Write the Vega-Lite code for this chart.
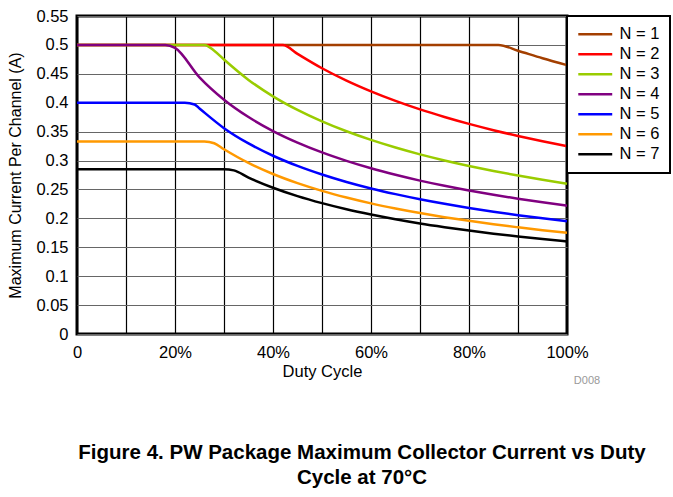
{
  "$schema": "https://vega.github.io/schema/vega-lite/v6.json",
  "width": 490,
  "height": 318,
  "autosize": {"type": "none"},
  "padding": {"left": 77, "top": 16, "right": 106, "bottom": 163},
  "background": "white",
  "config": {
    "view": {"stroke": "#000", "strokeWidth": 3},
    "font": "Liberation Sans",
    "legend": {"strokeWidth": 2}
  },
  "title": {
    "text": ["Figure 4. PW Package Maximum Collector Current vs Duty", "Cycle at 70°C"],
    "orient": "bottom",
    "anchor": "middle",
    "fontSize": 20.5,
    "fontWeight": "bold",
    "font": "Liberation Sans",
    "color": "#000",
    "dx": 40,
    "offset": 57,
    "lineHeight": 24.5
  },
  "encoding": {
    "x": {
      "field": "d", "type": "quantitative",
      "scale": {"domain": [0, 1], "nice": false, "zero": false},
      "axis": {
        "title": "Duty Cycle",
        "values": [0, 0.1, 0.2, 0.3, 0.4, 0.5, 0.6, 0.7, 0.8, 0.9, 1],
        "labelExpr": "round(datum.value*10) % 2 == 1 ? '' : (datum.value == 0 ? '0' : format(datum.value, '.0%'))",
        "labelFontSize": 16.5, "labelColor": "#000", "labelFont": "Liberation Sans",
        "labelPadding": 10, "ticks": false, "domain": false, "labelOverlap": false,
        "grid": true, "gridColor": "#000", "gridWidth": 1.2, "gridOpacity": 1,
        "titleFontSize": 16.5, "titleFontWeight": "normal", "titleColor": "#000", "titleFont": "Liberation Sans",
        "titlePadding": 3, "labelFlush": false
      }
    },
    "y": {
      "field": "i", "type": "quantitative",
      "scale": {"domain": [0, 0.55], "nice": false, "zero": true},
      "axis": {
        "title": "Maximum Current Per Channel (A)",
        "values": [0, 0.05, 0.1, 0.15, 0.2, 0.25, 0.3, 0.35, 0.4, 0.45, 0.5, 0.55],
        "format": ".2~f",
        "labelFontSize": 16.5, "labelColor": "#000", "labelFont": "Liberation Sans",
        "labelPadding": 9, "ticks": false, "domain": false, "labelOverlap": false,
        "grid": true, "gridColor": "#666", "gridWidth": 1, "gridOpacity": 1,
        "titleFontSize": 16, "titleFontWeight": "normal", "titleColor": "#000", "titleFont": "Liberation Sans",
        "titlePadding": 12, "labelFlush": false
      }
    }
  },
  "layer": [
    {
      "data": {
        "values": [
          {"n": "N = 1", "d": 0, "i": 0.5}, {"n": "N = 1", "d": 0.86, "i": 0.5}, {"n": "N = 1", "d": 0.9, "i": 0.49}, {"n": "N = 1", "d": 0.95, "i": 0.477}, {"n": "N = 1", "d": 1, "i": 0.465},
          {"n": "N = 2", "d": 0, "i": 0.5}, {"n": "N = 2", "d": 0.42, "i": 0.5}, {"n": "N = 2", "d": 0.45, "i": 0.4845}, {"n": "N = 2", "d": 0.5, "i": 0.4596}, {"n": "N = 2", "d": 0.55, "i": 0.4382}, {"n": "N = 2", "d": 0.6, "i": 0.4196}, {"n": "N = 2", "d": 0.65, "i": 0.4031}, {"n": "N = 2", "d": 0.7, "i": 0.3884}, {"n": "N = 2", "d": 0.75, "i": 0.3753}, {"n": "N = 2", "d": 0.8, "i": 0.3634}, {"n": "N = 2", "d": 0.85, "i": 0.3525}, {"n": "N = 2", "d": 0.9, "i": 0.3426}, {"n": "N = 2", "d": 0.95, "i": 0.3334}, {"n": "N = 2", "d": 1, "i": 0.325},
          {"n": "N = 3", "d": 0, "i": 0.5}, {"n": "N = 3", "d": 0.26, "i": 0.5}, {"n": "N = 3", "d": 0.28, "i": 0.49}, {"n": "N = 3", "d": 0.3, "i": 0.4747}, {"n": "N = 3", "d": 0.35, "i": 0.4395}, {"n": "N = 3", "d": 0.4, "i": 0.4111}, {"n": "N = 3", "d": 0.45, "i": 0.3876}, {"n": "N = 3", "d": 0.5, "i": 0.3677}, {"n": "N = 3", "d": 0.55, "i": 0.3506}, {"n": "N = 3", "d": 0.6, "i": 0.3357}, {"n": "N = 3", "d": 0.65, "i": 0.3225}, {"n": "N = 3", "d": 0.7, "i": 0.3107}, {"n": "N = 3", "d": 0.75, "i": 0.3002}, {"n": "N = 3", "d": 0.8, "i": 0.2907}, {"n": "N = 3", "d": 0.85, "i": 0.282}, {"n": "N = 3", "d": 0.9, "i": 0.2741}, {"n": "N = 3", "d": 0.95, "i": 0.2667}, {"n": "N = 3", "d": 1, "i": 0.26},
          {"n": "N = 4", "d": 0, "i": 0.5}, {"n": "N = 4", "d": 0.18, "i": 0.5}, {"n": "N = 4", "d": 0.2, "i": 0.495}, {"n": "N = 4", "d": 0.25, "i": 0.444}, {"n": "N = 4", "d": 0.3, "i": 0.4053}, {"n": "N = 4", "d": 0.35, "i": 0.3753}, {"n": "N = 4", "d": 0.4, "i": 0.351}, {"n": "N = 4", "d": 0.45, "i": 0.331}, {"n": "N = 4", "d": 0.5, "i": 0.314}, {"n": "N = 4", "d": 0.55, "i": 0.2994}, {"n": "N = 4", "d": 0.6, "i": 0.2866}, {"n": "N = 4", "d": 0.65, "i": 0.2754}, {"n": "N = 4", "d": 0.7, "i": 0.2653}, {"n": "N = 4", "d": 0.75, "i": 0.2563}, {"n": "N = 4", "d": 0.8, "i": 0.2482}, {"n": "N = 4", "d": 0.85, "i": 0.2408}, {"n": "N = 4", "d": 0.9, "i": 0.234}, {"n": "N = 4", "d": 0.95, "i": 0.2278}, {"n": "N = 4", "d": 1, "i": 0.222},
          {"n": "N = 5", "d": 0, "i": 0.4}, {"n": "N = 5", "d": 0.22, "i": 0.4}, {"n": "N = 5", "d": 0.24, "i": 0.397}, {"n": "N = 5", "d": 0.25, "i": 0.39}, {"n": "N = 5", "d": 0.3, "i": 0.356}, {"n": "N = 5", "d": 0.35, "i": 0.3296}, {"n": "N = 5", "d": 0.4, "i": 0.3083}, {"n": "N = 5", "d": 0.45, "i": 0.2907}, {"n": "N = 5", "d": 0.5, "i": 0.2758}, {"n": "N = 5", "d": 0.55, "i": 0.2629}, {"n": "N = 5", "d": 0.6, "i": 0.2517}, {"n": "N = 5", "d": 0.65, "i": 0.2419}, {"n": "N = 5", "d": 0.7, "i": 0.2331}, {"n": "N = 5", "d": 0.75, "i": 0.2252}, {"n": "N = 5", "d": 0.8, "i": 0.218}, {"n": "N = 5", "d": 0.85, "i": 0.2115}, {"n": "N = 5", "d": 0.9, "i": 0.2055}, {"n": "N = 5", "d": 0.95, "i": 0.2001}, {"n": "N = 5", "d": 1, "i": 0.195},
          {"n": "N = 6", "d": 0, "i": 0.333}, {"n": "N = 6", "d": 0.26, "i": 0.333}, {"n": "N = 6", "d": 0.28, "i": 0.33}, {"n": "N = 6", "d": 0.3, "i": 0.3195}, {"n": "N = 6", "d": 0.35, "i": 0.2958}, {"n": "N = 6", "d": 0.4, "i": 0.2767}, {"n": "N = 6", "d": 0.45, "i": 0.2609}, {"n": "N = 6", "d": 0.5, "i": 0.2475}, {"n": "N = 6", "d": 0.55, "i": 0.236}, {"n": "N = 6", "d": 0.6, "i": 0.2259}, {"n": "N = 6", "d": 0.65, "i": 0.2171}, {"n": "N = 6", "d": 0.7, "i": 0.2092}, {"n": "N = 6", "d": 0.75, "i": 0.2021}, {"n": "N = 6", "d": 0.8, "i": 0.1957}, {"n": "N = 6", "d": 0.85, "i": 0.1898}, {"n": "N = 6", "d": 0.9, "i": 0.1845}, {"n": "N = 6", "d": 0.95, "i": 0.1795}, {"n": "N = 6", "d": 1, "i": 0.175},
          {"n": "N = 7", "d": 0, "i": 0.285}, {"n": "N = 7", "d": 0.3, "i": 0.285}, {"n": "N = 7", "d": 0.32, "i": 0.283}, {"n": "N = 7", "d": 0.35, "i": 0.2705}, {"n": "N = 7", "d": 0.4, "i": 0.253}, {"n": "N = 7", "d": 0.45, "i": 0.2385}, {"n": "N = 7", "d": 0.5, "i": 0.2263}, {"n": "N = 7", "d": 0.55, "i": 0.2157}, {"n": "N = 7", "d": 0.6, "i": 0.2066}, {"n": "N = 7", "d": 0.65, "i": 0.1985}, {"n": "N = 7", "d": 0.7, "i": 0.1912}, {"n": "N = 7", "d": 0.75, "i": 0.1848}, {"n": "N = 7", "d": 0.8, "i": 0.1789}, {"n": "N = 7", "d": 0.85, "i": 0.1735}, {"n": "N = 7", "d": 0.9, "i": 0.1687}, {"n": "N = 7", "d": 0.95, "i": 0.1642}, {"n": "N = 7", "d": 1, "i": 0.16}
        ]
      },
      "mark": {"type": "line", "strokeWidth": 2.5, "interpolate": "monotone"},
      "encoding": {
        "color": {
          "field": "n", "type": "nominal",
          "scale": {
            "domain": ["N = 1", "N = 2", "N = 3", "N = 4", "N = 5", "N = 6", "N = 7"],
            "range": ["#A33F00", "#FF0000", "#99CC00", "#800080", "#0000FF", "#FF9900", "#000000"]
          },
          "legend": {
            "orient": "none", "legendX": 490, "legendY": 0, "title": null,
            "strokeColor": "#000", "fillColor": "white",
            "padding": 10, "rowPadding": 3,
            "labelFontSize": 16.5, "labelFont": "Liberation Sans", "labelColor": "#000",
            "symbolType": "M-3,0H3", "symbolSize": 128, "symbolStrokeWidth": 2.5,
            "symbolOffset": 10, "labelOffset": 16
          }
        }
      }
    },
    {
      "data": {"values": [{"lbl": "D008", "d": 1, "i": 0}]},
      "mark": {"type": "text", "dx": 20, "dy": 47, "fontSize": 11, "color": "#999", "font": "Liberation Sans"},
      "encoding": {
        "text": {"field": "lbl"}
      }
    }
  ]
}
